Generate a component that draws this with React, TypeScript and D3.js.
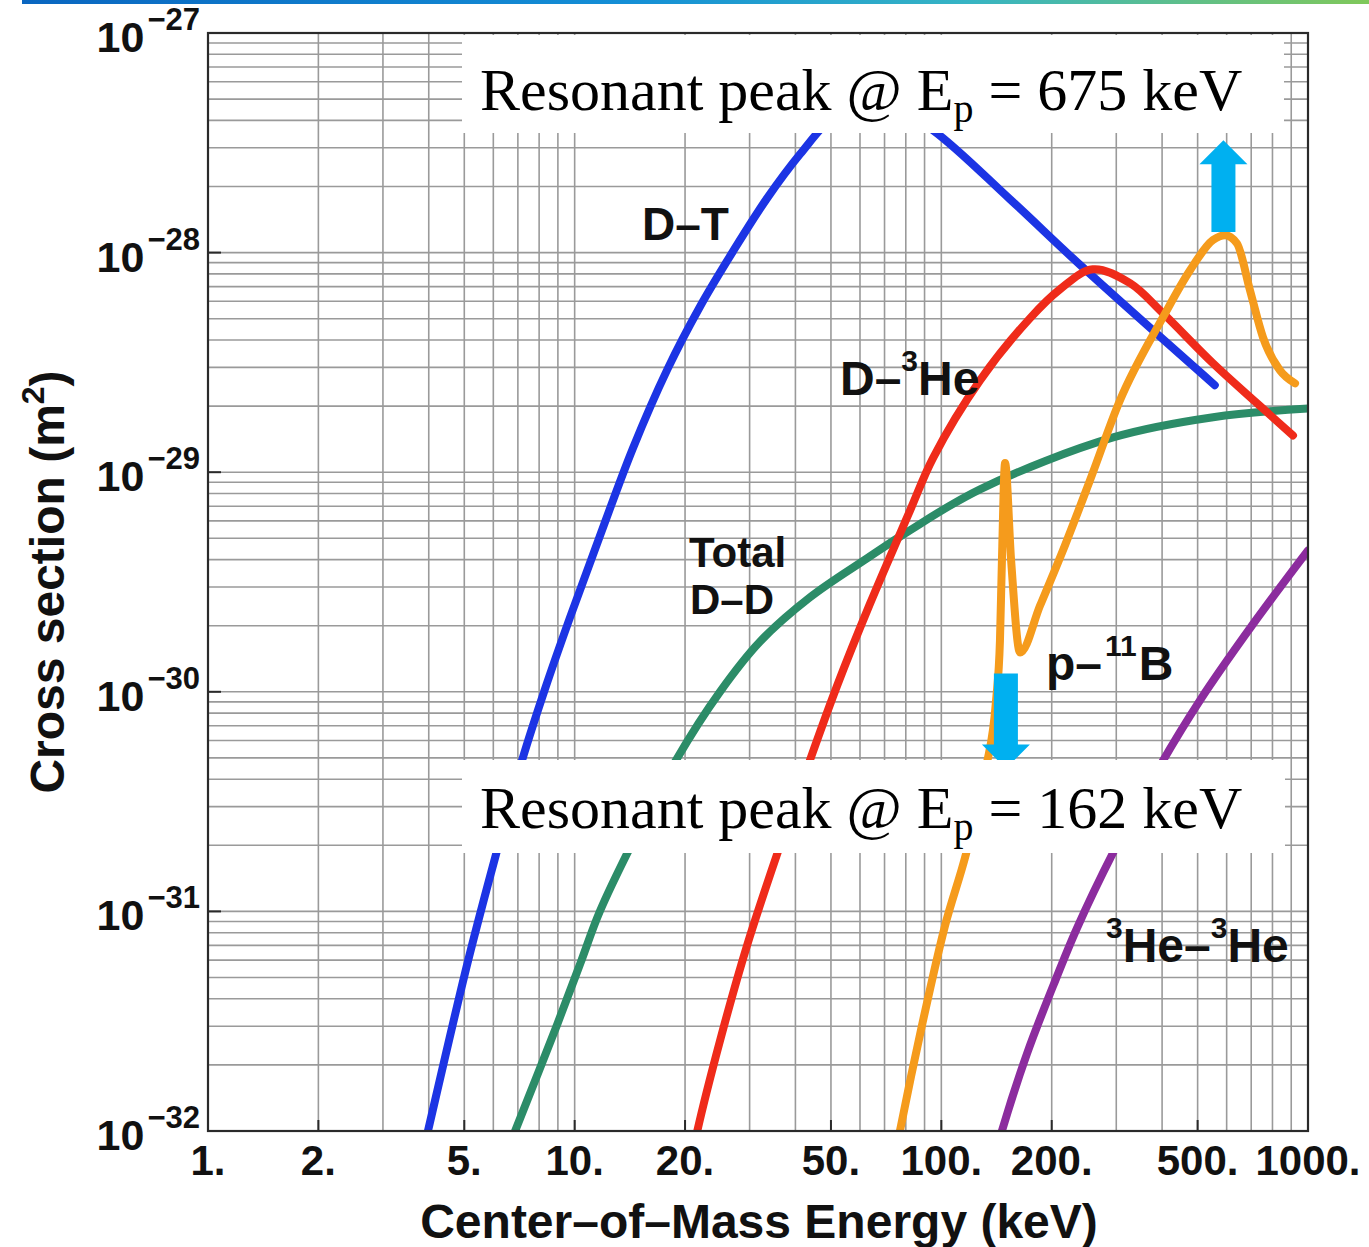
import React from 'react';
import * as d3 from 'd3';

// ---------- data (center-of-mass energy in keV, cross section in m^2) ----------
const xTickValues = [1, 2, 5, 10, 20, 50, 100, 200, 500, 1000];
const xTickLabels = ['1.', '2.', '5.', '10.', '20.', '50.', '100.', '200.', '500.', '1000.'];
const yTickExponents = [-27, -28, -29, -30, -31, -32];

const dtData: [number, number][] = [
  [3.81, 7.3e-33], [3.98, 1.0e-32], [5.12, 5.96e-32], [6.14, 1.89e-31], [7.18, 4.85e-31],
  [8.3, 1.03e-30], [9.71, 2.18e-30], [11.7, 5.09e-30], [14.4, 1.28e-29], [17.9, 2.94e-29],
  [22.0, 5.7e-29], [27.0, 1.01e-28], [33.5, 1.77e-28], [41.2, 2.81e-28], [51.3, 4.23e-28],
  [65.9, 5.21e-28], [94.9, 3.61e-28], [153.9, 1.75e-28], [243, 8.57e-29], [557, 2.49e-29],
];

const ddData: [number, number][] = [
  [6.38, 7.3e-33], [6.88, 1.0e-32], [8.95, 3.04e-32], [10.35, 5.77e-32], [11.7, 9.96e-32],
  [14.2, 1.97e-31], [19.0, 4.96e-31], [24.9, 1.0e-30], [32.0, 1.69e-30], [43.8, 2.69e-30],
  [62.7, 4.05e-30], [81.1, 5.37e-30], [127.5, 8.36e-30], [294, 1.44e-29], [551, 1.78e-29],
  [1000, 1.95e-29],
];

const dHe3Data: [number, number][] = [
  [20.8, 7.3e-33], [21.6, 1.0e-32], [24.9, 2.57e-32], [29.5, 6.97e-32], [36.3, 1.99e-31],
  [43.0, 4.47e-31], [51.9, 1.06e-30], [63.9, 2.52e-30], [82.2, 6.7e-30], [94.9, 1.16e-29],
  [127.5, 2.62e-29], [174.4, 5.02e-29], [210.7, 6.81e-29], [259, 8.4e-29], [327, 7.26e-29],
  [402, 5.3e-29], [551, 3.13e-29], [726, 2.06e-29], [910, 1.47e-29],
];

const pB11Data: [number, number][] = [
  [74.3, 7.3e-33], [77.1, 1.0e-32], [89.1, 3.17e-32], [102.3, 8.59e-32], [116.8, 1.83e-31],
  [132.3, 4.47e-31], [141.0, 9.12e-31], [144.5, 1.71e-30], [146.3, 3.96e-30], [149.2, 1.1e-29],
  [155.0, 3.96e-30], [164.0, 1.51e-30], [185.9, 2.47e-30], [217.3, 4.64e-30], [254.3, 9.18e-30],
  [306.9, 2.12e-29], [402.4, 5.08e-29], [476.8, 8.31e-29], [550.6, 1.14e-28], [594, 1.2e-28],
  [640.3, 1.1e-28], [694.6, 6.74e-29], [753.8, 4.11e-29], [838.6, 2.91e-29], [921.8, 2.54e-29],
];

const he3He3Data: [number, number][] = [
  [139, 7.3e-33], [146.3, 1.0e-32], [171.4, 2.26e-32], [201.8, 4.58e-32], [234.6, 8.42e-32],
  [294, 1.85e-31], [395, 4.61e-31], [507, 9.12e-31], [703, 2.0e-30], [1000, 4.4e-30],
];

// resonance annotations: energy (keV), arrow tail and tip cross sections
const upArrow = { e: 588, from: 1.24e-28, to: 3.25e-28 };
const downArrow = { e: 150, from: 1.21e-30, to: 4.47e-31 };

// ---------- layout ----------
const W = 1369;
const H = 1247;
const PL = 208, PR = 1308, PT = 33, PB = 1131;
const SANS = '"Liberation Sans", Arial, Helvetica, sans-serif';
const SERIF = '"Liberation Serif", "Times New Roman", Times, serif';

const smooth = d3.curveCatmullRom.alpha(0.5);
const series = [
  { key: 'dd', data: ddData, color: '#2c8c68', curve: smooth },
  { key: 'dt', data: dtData, color: '#1c34e4', curve: smooth },
  { key: 'dhe3', data: dHe3Data, color: '#ef2b1a', curve: smooth },
  { key: 'pb11', data: pB11Data, color: '#f59b1c', curve: d3.curveMonotoneX },
  { key: 'he3he3', data: he3He3Data, color: '#8c2c9e', curve: smooth },
];

export default function App() {
  const x = d3.scaleLog().domain([1, 1000]).range([PL, PR]);
  const y = d3.scaleLog().domain([1e-32, 1e-27]).range([PB, PT]);

  const makeLine = (curve: any) =>
    d3
      .line<[number, number]>()
      .x((d) => x(d[0]))
      .y((d) => y(d[1]))
      .curve(curve);

  // minor gridlines
  const vGrid: number[] = [];
  for (let dec = 1; dec <= 100; dec *= 10) for (let m = 1; m <= 9; m++) vGrid.push(m * dec);
  vGrid.push(1000);
  const hGrid: number[] = [];
  for (let e = -32; e <= -28; e++) for (let m = 1; m <= 9; m++) hGrid.push(m * Math.pow(10, e));
  hGrid.push(1e-27);

  const arrowPoly = (cx: number, tail: number, tip: number) => {
    const dir = tip < tail ? 1 : -1; // 1: pointing up
    const hl = 24, hw = 24, sw = 12;
    const hb = tip + dir * hl;
    return [
      [cx, tip], [cx + hw, hb], [cx + sw, hb], [cx + sw, tail],
      [cx - sw, tail], [cx - sw, hb], [cx - hw, hb],
    ].map((p) => p.join(',')).join(' ');
  };

  const labelStyle = { fontFamily: SANS, fontWeight: 700 as const, fill: '#111' };

  return (
    <svg width={W} height={H} style={{ position: 'absolute', left: 0, top: 0, background: '#fff' }}>
      <defs>
        <linearGradient id="topbar" x1="0" x2="1" y1="0" y2="0">
          <stop offset="0" stopColor="#0a66c0" />
          <stop offset="0.45" stopColor="#148fd6" />
          <stop offset="0.7" stopColor="#36b4c4" />
          <stop offset="1" stopColor="#80c85a" />
        </linearGradient>
        <clipPath id="plotclip">
          <rect x={PL} y={PT} width={PR - PL} height={PB - PT} />
        </clipPath>
      </defs>
      <rect x={0} y={0} width={W} height={H} fill="#fff" />
      <rect x={22} y={0} width={W - 22} height={4} fill="url(#topbar)" />

      {/* grid */}
      <g stroke="#9a9a9a" strokeWidth={1.6}>
        {vGrid.map((v) => (
          <line key={'v' + v} x1={x(v)} x2={x(v)} y1={PT} y2={PB} />
        ))}
        {hGrid.map((v, i) => (
          <line key={'h' + i} x1={PL} x2={PR} y1={y(v)} y2={y(v)} />
        ))}
      </g>

      {/* curves */}
      <g clipPath="url(#plotclip)" fill="none" strokeWidth={8} strokeLinejoin="round" strokeLinecap="round">
        {series.map((s) => (
          <path key={s.key} d={makeLine(s.curve)(s.data) || ''} stroke={s.color} />
        ))}
      </g>

      {/* resonance arrows */}
      <polygon points={arrowPoly(x(upArrow.e), y(upArrow.from), y(upArrow.to))} fill="#00b0f0" />
      <polygon points={arrowPoly(x(downArrow.e), y(downArrow.from), y(downArrow.to))} fill="#00b0f0" />

      {/* white annotation boxes */}
      <rect x={462} y={35} width={822} height={98} fill="#fff" />
      <rect x={462} y={760} width={823} height={93} fill="#fff" />
      <text x={480} y={110} fontFamily={SERIF} fontSize={60} fill="#000">
        Resonant peak @ E
        <tspan fontSize={40} dy={12}>p</tspan>
        <tspan dy={-12}> = 675 keV</tspan>
      </text>
      <text x={480} y={828} fontFamily={SERIF} fontSize={60} fill="#000">
        Resonant peak @ E
        <tspan fontSize={40} dy={12}>p</tspan>
        <tspan dy={-12}> = 162 keV</tspan>
      </text>

      {/* curve labels */}
      <text x={642} y={240} fontSize={46} {...labelStyle}>D–T</text>
      <text x={840} y={395} fontSize={48} {...labelStyle}>
        D–<tspan fontSize={30} dy={-24}>3</tspan>
        <tspan dy={24}>He</tspan>
      </text>
      <text x={689} y={567} fontSize={42} {...labelStyle}>Total</text>
      <text x={690} y={614} fontSize={42} {...labelStyle}>D–D</text>
      <text x={1046} y={680} fontSize={48} {...labelStyle}>
        p–<tspan fontSize={30} dy={-24} dx={3}>11</tspan>
        <tspan dy={24} dx={2}>B</tspan>
      </text>
      <text x={1106} y={962} fontSize={48} {...labelStyle}>
        <tspan fontSize={30} dy={-24}>3</tspan>
        <tspan dy={24}>He–</tspan>
        <tspan fontSize={30} dy={-24}>3</tspan>
        <tspan dy={24}>He</tspan>
      </text>

      {/* frame and ticks */}
      <rect x={PL} y={PT} width={PR - PL} height={PB - PT} fill="none" stroke="#2a2a2a" strokeWidth={2.2} />
      <g stroke="#2a2a2a" strokeWidth={2}>
        {xTickValues.map((v) => (
          <line key={'xt' + v} x1={x(v)} x2={x(v)} y1={PB} y2={PB - 11} />
        ))}
        {yTickExponents.map((e) => (
          <line key={'yt' + e} x1={PL} x2={PL + 13} y1={y(Math.pow(10, e))} y2={y(Math.pow(10, e))} />
        ))}
      </g>

      {/* tick labels */}
      {xTickValues.map((v, i) => (
        <text key={'xl' + v} x={x(v)} y={1175} textAnchor="middle" fontSize={42} {...labelStyle}>
          {xTickLabels[i]}
        </text>
      ))}
      {yTickExponents.map((e) => (
        <text key={'yl' + e} x={200} y={y(Math.pow(10, e)) + 19} textAnchor="end" fontSize={43} {...labelStyle}>
          10
          <tspan fontSize={31} dy={-22} dx={3}>{'−' + String(-e)}</tspan>
        </text>
      ))}

      {/* axis titles */}
      <text x={759} y={1238} textAnchor="middle" fontSize={48} {...labelStyle}>
        Center–of–Mass Energy (keV)
      </text>
      <text transform="translate(64,582) rotate(-90)" textAnchor="middle" fontSize={48} {...labelStyle}>
        Cross section (m<tspan fontSize={32} dy={-20}>2</tspan>
        <tspan dy={20}>)</tspan>
      </text>
    </svg>
  );
}
